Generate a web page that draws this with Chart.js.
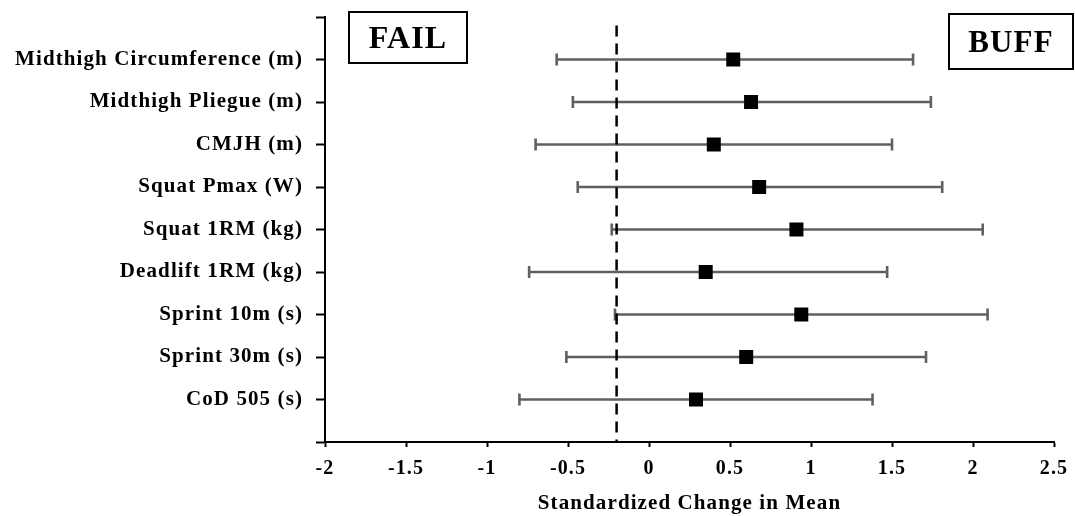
<!DOCTYPE html>
<html>
<head>
<meta charset="utf-8">
<script src="https://cdn.jsdelivr.net/npm/chart.js@4/dist/chart.umd.min.js"></script>
<style>
  html, body { margin: 0; padding: 0; background: #fff; }
  #wrap { width: 1075px; height: 516px; position: relative; }
</style>
</head>
<body>
<div id="wrap"><canvas id="c"></canvas></div>
<script>
const categories = [
  "Midthigh Circumference (m)",
  "Midthigh Pliegue (m)",
  "CMJH (m)",
  "Squat Pmax (W)",
  "Squat 1RM (kg)",
  "Deadlift 1RM (kg)",
  "Sprint 10m (s)",
  "Sprint 30m (s)",
  "CoD 505 (s)"
];
const means = [0.52, 0.63, 0.40, 0.68, 0.91, 0.35, 0.94, 0.60, 0.29];
const lower = [-0.57, -0.47, -0.70, -0.44, -0.23, -0.74, -0.21, -0.51, -0.80];
const upper = [1.63, 1.74, 1.50, 1.81, 2.06, 1.47, 2.09, 1.71, 1.38];
const xTicks = [-2, -1.5, -1, -0.5, 0, 0.5, 1, 1.5, 2, 2.5];
const refValue = -0.2;
const axisTitle = "Standardized Change in Mean";
const boxLabels = ["FAIL", "BUFF"];

const FONT = "'Liberation Serif', 'Times New Roman', serif";
const SPACING = '1.1px';

const errorBarPlugin = {
  id: 'errorBars',
  beforeUpdate(chart) { chart.ctx.letterSpacing = SPACING; },
  beforeDraw(chart) { chart.ctx.letterSpacing = SPACING; },
  beforeDatasetsDraw(chart) {
    const ctx = chart.ctx;
    const xs = chart.scales.x, ys = chart.scales.y;
    ctx.save();
    ctx.strokeStyle = '#606060';
    ctx.lineWidth = 2.6;
    const cap = 6;
    for (let i = 0; i < means.length; i++) {
      const y = ys.getPixelForValue(i + 1);
      const x1 = xs.getPixelForValue(lower[i]);
      const x2 = xs.getPixelForValue(upper[i]);
      ctx.beginPath();
      ctx.moveTo(x1, y); ctx.lineTo(x2, y);
      ctx.moveTo(x1, y - cap); ctx.lineTo(x1, y + cap);
      ctx.moveTo(x2, y - cap); ctx.lineTo(x2, y + cap);
      ctx.stroke();
    }
    ctx.restore();
  },
  afterDraw(chart) {
    const ctx = chart.ctx;
    ctx.save();
    ctx.strokeStyle = '#000';
    ctx.lineWidth = 2;
    ctx.fillStyle = '#000';
    ctx.textAlign = 'center';
    ctx.textBaseline = 'middle';
    const boxes = [
      {x: 349, y: 12, w: 118, h: 51, size: 32},
      {x: 949, y: 14, w: 124, h: 55, size: 31}
    ];
    boxes.forEach((b, i) => {
      ctx.fillStyle = '#fff';
      ctx.fillRect(b.x, b.y, b.w, b.h);
      ctx.strokeRect(b.x, b.y, b.w, b.h);
      ctx.fillStyle = '#000';
      ctx.font = 'bold ' + b.size + 'px ' + FONT;
      ctx.fillText(boxLabels[i], b.x + b.w / 2, b.y + b.h / 2 + 2);
    });
    ctx.restore();
  }
};

new Chart(document.getElementById('c'), {
  type: 'scatter',
  data: {
    datasets: [
      {
        data: means.map((m, i) => ({x: m, y: i + 1})),
        pointStyle: 'rect',
        pointRadius: 9.9,
        pointHoverRadius: 9.9,
        backgroundColor: '#000',
        borderWidth: 0,
        showLine: false
      },
      {
        data: [{x: refValue, y: 0.2}, {x: refValue, y: 10}],
        showLine: true,
        borderColor: '#000',
        borderWidth: 2.5,
        borderDash: [11, 7],
        pointRadius: 0,
        pointHoverRadius: 0
      }
    ]
  },
  options: {
    responsive: true,
    maintainAspectRatio: false,
    animation: false,
    events: [],
    layout: { padding: { top: 17, right: 21, left: 0, bottom: 0 } },
    plugins: { legend: { display: false }, tooltip: { enabled: false } },
    scales: {
      x: {
        type: 'linear',
        min: -2, max: 2.5,
        afterBuildTicks(scale) { scale.ticks = xTicks.map(v => ({value: v})); },
        afterFit(scale) {
          scale.height = 74;
          scale.paddingLeft = 0; scale.paddingRight = 0;
        },
        grid: { drawOnChartArea: false, drawTicks: true, tickLength: 5, tickWidth: 2, tickColor: '#000' },
        border: { display: true, color: '#000', width: 2 },
        ticks: {
          color: '#000',
          padding: 10,
          maxRotation: 0,
          font: { family: FONT, size: 20, weight: 'bold' },
          callback: v => String(v)
        },
        title: {
          display: true,
          text: axisTitle,
          color: '#000',
          font: { family: FONT, size: 21, weight: 'bold' },
          padding: { top: 0, bottom: 0 }
        }
      },
      y: {
        type: 'linear',
        min: 0, max: 10,
        reverse: true,
        afterBuildTicks(scale) {
          const t = [];
          for (let v = 0; v <= 10; v++) t.push({value: v});
          scale.ticks = t;
        },
        afterFit(scale) {
          scale.width = 325;
          scale.paddingTop = 0; scale.paddingBottom = 0;
        },
        grid: { drawOnChartArea: false, drawTicks: true, tickLength: 9, tickWidth: 2, tickColor: '#000' },
        border: { display: true, color: '#000', width: 2 },
        ticks: {
          color: '#000',
          padding: 13,
          font: { family: FONT, size: 21, weight: 'bold' },
          callback: v => (v >= 1 && v <= categories.length) ? categories[v - 1] : ''
        }
      }
    }
  },
  plugins: [errorBarPlugin]
});
</script>
</body>
</html>
